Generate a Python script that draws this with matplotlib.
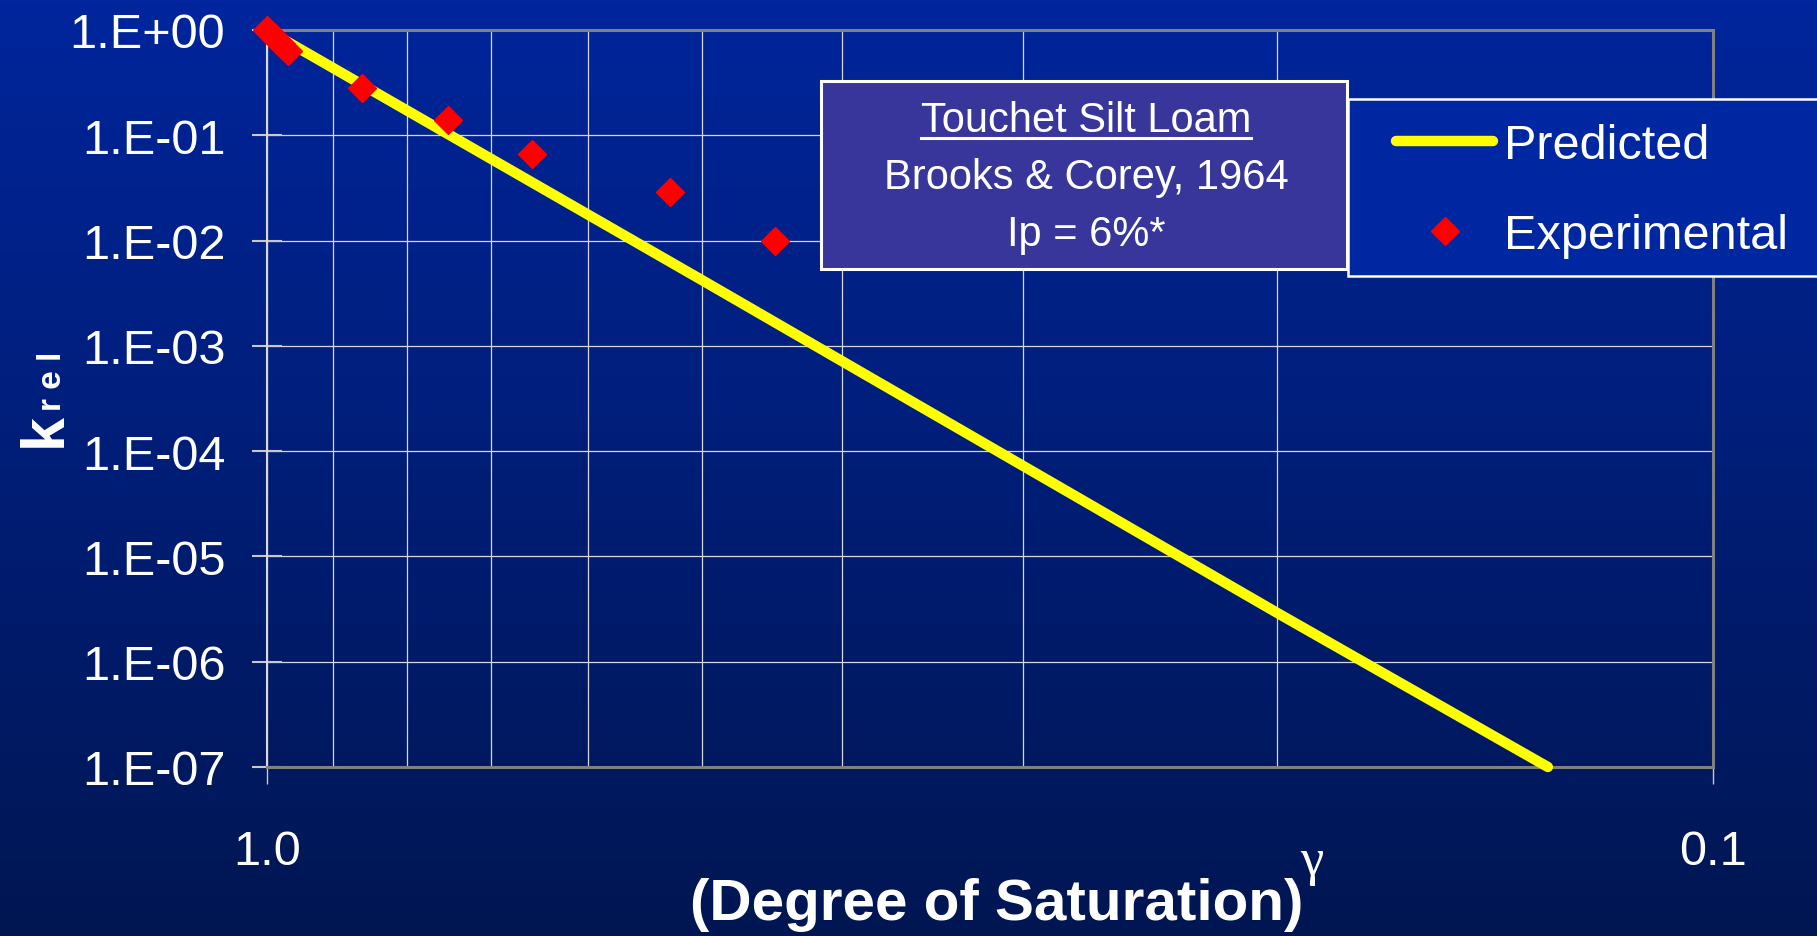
import numpy as np
import matplotlib
matplotlib.use("Agg")
import matplotlib.pyplot as plt
from matplotlib.patches import Rectangle
from matplotlib.lines import Line2D

# Touchet Silt Loam, relative conductivity vs degree of saturation
sat_pred = [1.0, 0.5, 0.2, 0.13]
krel_pred = [1.0, 4.2e-3, 2.9e-6, 1.0e-7]

sat_exp = [1.0, 0.989, 0.978, 0.967, 0.86, 0.75, 0.656, 0.526, 0.445]
krel_exp = [1.0, 0.858, 0.736, 0.632, 0.279, 0.141, 0.0664, 0.029, 0.00998]

y_ticks = [1e0, 1e-1, 1e-2, 1e-3, 1e-4, 1e-5, 1e-6, 1e-7]
y_labels = ["1.E+00", "1.E-01", "1.E-02", "1.E-03", "1.E-04", "1.E-05", "1.E-06", "1.E-07"]
x_ticks = [1.0, 0.1]
x_labels = ["1.0", "0.1"]
x_minor = [0.9, 0.8, 0.7, 0.6, 0.5, 0.4, 0.3, 0.2]

box_lines = ["Touchet Silt Loam", "Brooks & Corey, 1964", "Ip = 6%*"]

W, H = 1817, 937
plt.rcParams["font.family"] = ["Liberation Sans", "DejaVu Sans"]


def fx(px):
    return px / W


def fy(py):
    return 1 - py / H


fig = plt.figure(figsize=(W / 100, H / 100), dpi=100)

# gradient background
bg = fig.add_axes([0, 0, 1, 1], zorder=-10)
top = np.array([0, 37, 156]) / 255
bot = np.array([0, 22, 82]) / 255
t = np.linspace(0, 1, 256)[:, None]
grad = top[None, :] * (1 - t) + bot[None, :] * t
bg.imshow(grad[:, None, :], aspect="auto", extent=[0, 1, 0, 1])
bg.axis("off")

ax = fig.add_axes([fx(267), fy(768), fx(1712.6 - 267), (768 - 31) / H])
ax.set_facecolor("none")
ax.set_xscale("log")
ax.set_yscale("log")
ax.set_xlim(1.0, 0.1)
ax.set_ylim(1e-7, 1.0)

ax.plot(sat_pred, krel_pred, color="#FFFF00", lw=7.5, solid_capstyle="round",
        label="Predicted", zorder=3, clip_on=False)
ax.plot(sat_exp, krel_exp, ls="none", marker="D", ms=14.5, color="#FF0000",
        mec="#FF0000", label="Experimental", zorder=4, clip_on=False)

ax.set_yticks(y_ticks)
ax.set_yticklabels(y_labels)
ax.set_xticks(x_ticks)
ax.set_xticklabels(x_labels)
ax.set_xticks(x_minor, minor=True)
ax.set_xticklabels([], minor=True)
ax.yaxis.set_minor_locator(matplotlib.ticker.NullLocator())

ax.tick_params(axis="y", which="major", direction="inout", length=22, width=1.5,
               color="#c8c8c8", labelsize=35, labelcolor="white", pad=19)
ax.tick_params(axis="x", which="major", direction="out", length=12, width=1,
               color="#c8c8c8", labelsize=35, labelcolor="white", pad=33)
ax.tick_params(axis="x", which="minor", length=0)

ax.grid(True, which="major", color="#d8d8d8", lw=0.9)
ax.grid(True, which="minor", axis="x", color="#d8d8d8", lw=0.9)
ax.set_axisbelow(True)

for side in ["top", "right", "bottom"]:
    ax.spines[side].set_color("#808080")
    ax.spines[side].set_linewidth(2.2)
ax.spines["left"].set_color("#d8d8d8")
ax.spines["left"].set_linewidth(1.5)

# axis labels
fig.text(fx(997), fy(920), "(Degree of Saturation)", ha="center", va="baseline",
         fontsize=42, fontweight="bold", color="white")
fig.text(fx(1312), fy(875), "\u03b3", ha="center", va="baseline", fontsize=38,
         color="white", family=["Liberation Serif", "DejaVu Serif"])
fig.text(fx(61), fy(447), "k", rotation=90, rotation_mode="anchor", ha="left",
         va="baseline", fontsize=44, fontweight="bold", color="white")
fig.text(fx(61), fy(411), "r e l", rotation=90, rotation_mode="anchor", ha="left",
         va="baseline", fontsize=24, fontweight="bold", color="white")

# annotation box
fig.patches.append(Rectangle((fx(821), fy(270)), fx(1347 - 821), (270 - 82) / H,
                             transform=fig.transFigure, facecolor="#38369A",
                             edgecolor="white", lw=2.2, zorder=5))
baselines = [132, 189, 246]
txts = []
for s, b in zip(box_lines, baselines):
    txts.append(fig.text(fx(1086), fy(b), s, ha="center", va="baseline",
                         fontsize=30, color="white", zorder=6))
fig.canvas.draw()
bb = txts[0].get_window_extent()
fig.add_artist(Line2D([bb.x0 / W, bb.x1 / W], [fy(139), fy(139)],
                      transform=fig.transFigure, color="white", lw=2.2, zorder=6))

# legend
fig.patches.append(Rectangle((fx(1348), fy(277)), fx(500), (277 - 100) / H,
                             transform=fig.transFigure, facecolor="#0027A2",
                             edgecolor="white", lw=1.8, zorder=5))
handles, labels = ax.get_legend_handles_labels()
leg = fig.legend(handles, labels, loc="upper left", bbox_to_anchor=(fx(1396), fy(124)),
                 bbox_transform=fig.transFigure, frameon=False, fontsize=35,
                 borderpad=0, borderaxespad=0, handlelength=2.0,
                 handletextpad=0.23, labelspacing=0.93, numpoints=1)
leg.set_zorder(7)
for txt in leg.get_texts():
    txt.set_color("white")

fig.savefig("out.png", dpi=100)
